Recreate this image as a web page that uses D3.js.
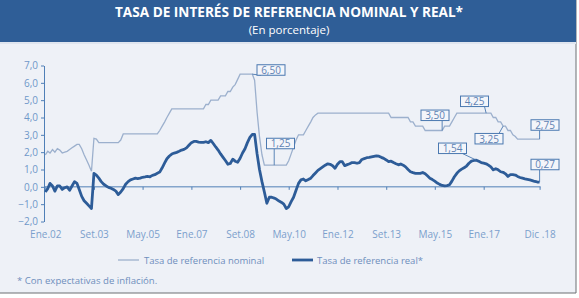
<!DOCTYPE html>
<html>
<head>
<meta charset="utf-8">
<script src="https://cdn.jsdelivr.net/npm/d3@7"></script>
<style>
  body { margin: 0; background: #fff; }
  svg { display: block; font-family: 'Open Sans', sans-serif; }
</style>
</head>
<body>
<svg width="579" height="298"></svg>
<script>
// monthly values, Ene.2002 .. Dic.2018 (one row per year)
const nominal = [
  1.85, 2.05, 1.95, 2.15, 2.00, 2.20, 2.12, 1.95, 2.00, 2.05, 2.15, 2.25,
  2.35, 2.45, 2.45, 2.20, 1.85, 1.55, 1.25, 0.90, 2.80, 2.75, 2.55, 2.55,
  2.55, 2.55, 2.55, 2.55, 2.55, 2.55, 2.55, 2.70, 3.05, 3.05, 3.05, 3.05,
  3.05, 3.05, 3.05, 3.05, 3.05, 3.05, 3.05, 3.05, 3.05, 3.05, 3.05, 3.25,
  3.50, 3.75, 4.00, 4.25, 4.50, 4.50, 4.50, 4.50, 4.50, 4.50, 4.50, 4.50,
  4.50, 4.50, 4.50, 4.50, 4.50, 4.50, 4.75, 4.75, 5.00, 5.00, 5.00, 5.00,
  5.25, 5.25, 5.25, 5.50, 5.50, 5.75, 5.90, 6.20, 6.50, 6.50, 6.50, 6.50,
  6.50, 6.50, 6.15, 4.30, 2.90, 1.85, 1.25, 1.25, 1.25, 1.25, 1.25, 1.25,
  1.25, 1.25, 1.25, 1.25, 1.50, 1.90, 2.30, 2.70, 3.00, 3.00, 3.00, 3.25,
  3.50, 3.75, 4.00, 4.15, 4.25, 4.25, 4.25, 4.25, 4.25, 4.25, 4.25, 4.25,
  4.25, 4.25, 4.25, 4.25, 4.25, 4.25, 4.25, 4.25, 4.25, 4.25, 4.25, 4.25,
  4.25, 4.25, 4.25, 4.25, 4.25, 4.25, 4.25, 4.25, 4.25, 4.25, 4.00, 4.00,
  4.00, 4.00, 4.00, 4.00, 4.00, 4.00, 3.75, 3.75, 3.50, 3.50, 3.50, 3.50,
  3.25, 3.25, 3.25, 3.25, 3.25, 3.25, 3.25, 3.25, 3.50, 3.50, 3.50, 3.75,
  4.00, 4.25, 4.25, 4.25, 4.25, 4.25, 4.25, 4.25, 4.25, 4.25, 4.25, 4.25,
  4.25, 4.25, 4.25, 4.25, 4.00, 4.00, 3.75, 3.75, 3.50, 3.50, 3.25, 3.25,
  3.00, 2.90, 2.75, 2.75, 2.75, 2.75, 2.75, 2.75, 2.75, 2.75, 2.75, 2.75
];
const real = [
  -0.30, -0.10, 0.20, 0.05, -0.25, 0.05, 0.05, -0.15, -0.05, 0.00, -0.20, 0.05,
  0.30, 0.20, -0.15, -0.55, -0.80, -0.95, -1.10, -1.25, 0.78, 0.68, 0.50, 0.30,
  0.15, 0.05, -0.03, -0.08, -0.15, -0.25, -0.45, -0.30, -0.10, 0.15, 0.30, 0.40,
  0.45, 0.50, 0.48, 0.50, 0.55, 0.57, 0.60, 0.58, 0.66, 0.70, 0.78, 0.85,
  1.10, 1.38, 1.62, 1.78, 1.89, 1.95, 1.99, 2.05, 2.12, 2.16, 2.25, 2.40,
  2.55, 2.62, 2.62, 2.58, 2.56, 2.56, 2.60, 2.55, 2.68, 2.50, 2.30, 2.12,
  1.90, 1.70, 1.52, 1.30, 1.35, 1.60, 1.48, 1.42, 1.65, 1.95, 2.20, 2.55,
  2.85, 3.03, 3.03, 1.90, 1.00, 0.30, -0.30, -0.95, -0.60, -0.60, -0.65, -0.72,
  -0.82, -0.90, -1.00, -1.25, -1.15, -0.85, -0.60, -0.20, 0.20, 0.40, 0.45, 0.35,
  0.42, 0.50, 0.65, 0.80, 0.95, 1.05, 1.15, 1.25, 1.33, 1.30, 1.22, 1.07,
  1.30, 1.45, 1.45, 1.22, 1.28, 1.33, 1.40, 1.40, 1.36, 1.40, 1.58, 1.63,
  1.68, 1.70, 1.73, 1.76, 1.79, 1.77, 1.70, 1.64, 1.55, 1.45, 1.48, 1.40,
  1.33, 1.27, 1.32, 1.25, 1.15, 1.00, 0.87, 0.82, 0.78, 0.78, 0.78, 0.83,
  0.75, 0.62, 0.50, 0.42, 0.33, 0.22, 0.14, 0.08, 0.05, 0.07, 0.12, 0.33,
  0.58, 0.78, 0.92, 1.02, 1.10, 1.20, 1.36, 1.48, 1.52, 1.54, 1.47, 1.40,
  1.37, 1.33, 1.25, 1.15, 0.98, 1.05, 0.98, 0.87, 0.84, 0.75, 0.60, 0.70,
  0.70, 0.68, 0.60, 0.54, 0.50, 0.46, 0.43, 0.40, 0.36, 0.31, 0.28, 0.27
];

const xTickDates = ['2002-01', '2003-09', '2005-05', '2007-01', '2008-09', '2010-05',
                    '2012-01', '2013-09', '2015-05', '2017-01', '2018-12'];
const xTickLabels = ['Ene.02', 'Set.03', 'May.05', 'Ene.07', 'Set.08', 'May.10',
                     'Ene.12', 'Set.13', 'May.15', 'Ene.17', 'Dic .18'];
const yTicks = [-2, -1, 0, 1, 2, 3, 4, 5, 6, 7];

// value callouts: text, anchor month, anchor value
const calloutTexts = ['6,50', '1,25', '3,50', '4,25', '3,25', '2,75', '1,54', '0,27'];
const calloutDates = ['2009-02', '2009-11', '2015-08', '2017-02', '2017-09', '2018-12', '2016-10', '2018-12'];
const calloutValues = [6.50, 1.25, 3.25, 4.25, 3.50, 2.75, 1.54, 0.27];
// box centres (layout only)
const calloutBoxes = [[271, 70], [280.5, 143.5], [435, 115.3], [474.5, 101.3],
                      [489, 138.7], [545, 125], [452.5, 148.3], [545, 164.5]];

const svg = d3.select('svg');
const parse = d3.timeParse('%Y-%m');
const months = d3.timeMonth.range(new Date(2002, 0, 1), new Date(2019, 0, 1));

const x = d3.scaleTime()
  .domain([months[0], months[months.length - 1]])
  .range([45.3, 539.6]);
const y = d3.scaleLinear()
  .domain([-2, 7])
  .range([221.5, 65.5]);

// frame
svg.append('rect').attr('x', 0).attr('y', 0).attr('width', 576).attr('height', 293)
  .attr('fill', '#eef1f7');
svg.append('path').attr('d', 'M576,0V293H0').attr('fill', 'none')
  .attr('stroke', '#6d6f73').attr('stroke-width', 1);
svg.append('rect').attr('x', 0).attr('y', 0).attr('width', 576).attr('height', 42)
  .attr('fill', '#2f5e97');
svg.append('rect').attr('x', 0).attr('y', 42).attr('width', 576).attr('height', 2)
  .attr('fill', '#dfe5ef');

svg.append('text').attr('x', 289).attr('y', 17).attr('text-anchor', 'middle')
  .attr('fill', '#fff').attr('font-weight', 700).attr('font-size', 13.6)
  .text('TASA DE INTERÉS DE REFERENCIA NOMINAL Y REAL*');
svg.append('text').attr('x', 289).attr('y', 34).attr('text-anchor', 'middle')
  .attr('fill', '#fff').attr('font-size', 11.5)
  .text('(En porcentaje)');

// y axis
const yAxis = svg.append('g')
  .attr('transform', 'translate(44,0)')
  .call(d3.axisLeft(y).tickValues(yTicks).tickSize(3).tickSizeOuter(0)
    .tickFormat(d => d3.format('.1f')(d).replace('.', ',')));
yAxis.select('.domain').attr('stroke', '#4f7fb7');
yAxis.selectAll('.tick line').attr('stroke', '#4f7fb7');
yAxis.selectAll('.tick text').attr('fill', '#6f98c9').attr('font-size', 10)
  .attr('font-family', "'Open Sans', sans-serif").attr('x', -6);

// x axis on the zero line
const xAxis = svg.append('g')
  .attr('transform', `translate(0,${y(0)})`)
  .call(d3.axisBottom(x).tickValues(xTickDates.map(parse)).tickSize(3).tickSizeOuter(0)
    .tickFormat((d, i) => xTickLabels[i]));
xAxis.select('.domain').attr('stroke', '#4f7fb7').attr('d', `M44,0H${x(months[months.length - 1]) + 1}`);
xAxis.selectAll('.tick line').attr('stroke', '#4f7fb7');
xAxis.selectAll('.tick text').attr('fill', '#7b9fcc').attr('font-size', 10)
  .attr('font-family', "'Open Sans', sans-serif").attr('y', 44);

// lines
const line = d3.line().x((d, i) => x(months[i])).y(d => y(d));
svg.append('path').datum(nominal).attr('d', line)
  .attr('fill', 'none').attr('stroke', '#9cb0cd').attr('stroke-width', 1.3);
svg.append('path').datum(real).attr('d', line)
  .attr('fill', 'none').attr('stroke', '#2d5c98').attr('stroke-width', 2.8)
  .attr('stroke-linejoin', 'round');

// callouts
const boxW = 28, boxH = 10.5;
calloutTexts.forEach((t, i) => {
  const ax = x(parse(calloutDates[i])), ay = y(calloutValues[i]);
  const [cx, cy] = calloutBoxes[i];
  const sx = Math.max(cx - boxW / 2 + 4, Math.min(cx + boxW / 2 - 4, ax));
  const sy = ay > cy ? cy + boxH / 2 : cy - boxH / 2;
  svg.append('line').attr('x1', sx).attr('y1', sy).attr('x2', ax).attr('y2', ay)
    .attr('stroke', '#4a78b0').attr('stroke-width', 0.9);
  svg.append('rect').attr('x', cx - boxW / 2).attr('y', cy - boxH / 2)
    .attr('width', boxW).attr('height', boxH)
    .attr('fill', '#f3f5fa').attr('stroke', '#4a78b0').attr('stroke-width', 1);
  svg.append('text').attr('x', cx).attr('y', cy + 3.8).attr('text-anchor', 'middle')
    .attr('font-size', 10).attr('fill', '#5f82b3').text(t);
});

// legend
const legend = svg.append('g');
legend.append('line').attr('x1', 118).attr('x2', 139).attr('y1', 260).attr('y2', 260)
  .attr('stroke', '#9cb0cd').attr('stroke-width', 1.3);
legend.append('text').attr('x', 144).attr('y', 263.5).attr('font-size', 9.5)
  .attr('fill', '#6f8fbd').text('Tasa de referencia nominal');
legend.append('line').attr('x1', 292).attr('x2', 313).attr('y1', 260).attr('y2', 260)
  .attr('stroke', '#2d5c98').attr('stroke-width', 2.8);
legend.append('text').attr('x', 317).attr('y', 263.5).attr('font-size', 9.5)
  .attr('fill', '#6f8fbd').text('Tasa de referencia real*');

svg.append('text').attr('x', 17).attr('y', 284).attr('font-size', 9.6)
  .attr('fill', '#6f8fbd').text('* Con expectativas de inflación.');
</script>
</body>
</html>
